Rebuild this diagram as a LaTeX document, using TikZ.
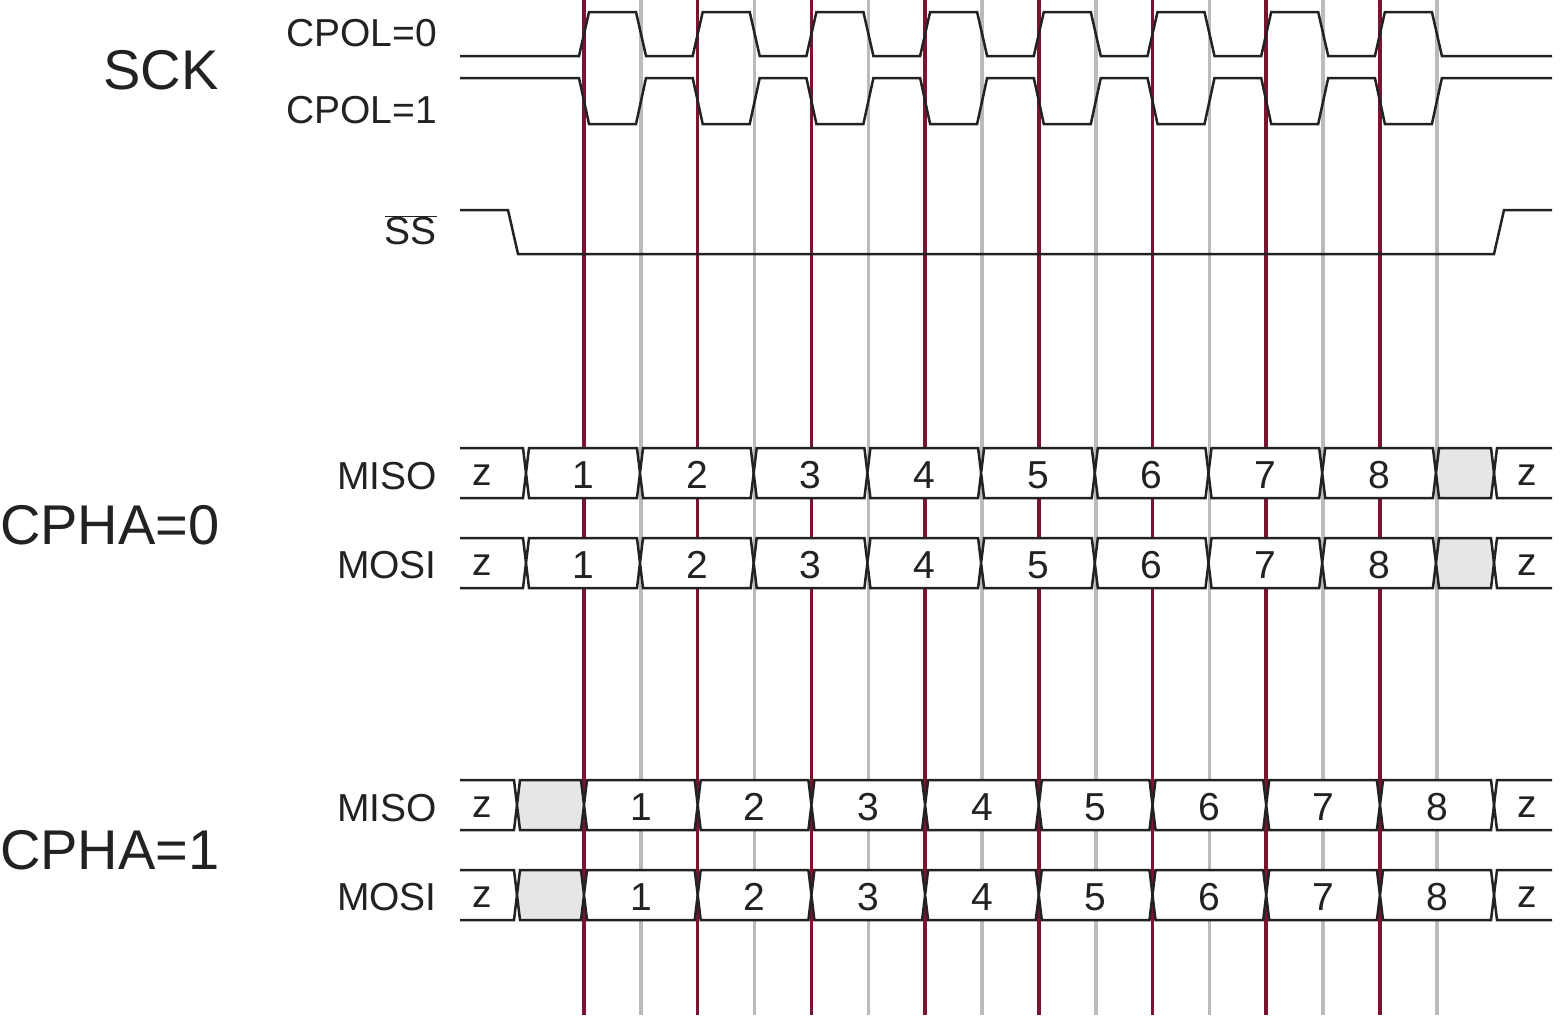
\documentclass[tikz,border=0pt]{standalone}
\usepackage{fontspec}
\setmainfont{Liberation Sans}
\definecolor{redl}{HTML}{7A1430}
\definecolor{grayl}{HTML}{BBBBBB}
\definecolor{cellg}{HTML}{E6E6E6}
\definecolor{ink}{HTML}{222222}
\begin{document}
\begin{tikzpicture}[x=1pt,y=-1pt,
  wave/.style={draw=ink,line width=2.5pt,line join=miter},
  cell/.style={draw=ink,line width=2.5pt,fill=white},
  gcell/.style={draw=ink,line width=2.5pt,fill=cellg},
  big/.style={font=\fontsize{56}{60}\selectfont,text=ink,inner sep=0pt},
  sml/.style={font=\fontsize{39}{42}\selectfont,text=ink,inner sep=0pt}]
\useasboundingbox (0,0) rectangle (1560,1015);
% vertical reference lines
\foreach \i in {0,...,7}{
  \pgfmathsetmacro{\xr}{584+113.7*\i}
  \pgfmathsetmacro{\xg}{641+113.7*\i}
  \draw[redl,line width=3.5pt] (\xr,0) -- (\xr,1015);
  \draw[grayl,line width=3.5pt] (\xg,0) -- (\xg,1015);
}
% clocks
\draw[wave] (460,56) -- (578,56)
  \foreach \i in {0,...,7}{
    -- ({579+113.7*\i},56) -- ({589+113.7*\i},12) -- ({636+113.7*\i},12) -- ({646+113.7*\i},56)
  } -- (1552,56);
\draw[wave] (460,78) -- (578,78)
  \foreach \i in {0,...,7}{
    -- ({579+113.7*\i},78) -- ({589+113.7*\i},124) -- ({636+113.7*\i},124) -- ({646+113.7*\i},78)
  } -- (1552,78);
% SS
\draw[wave] (460,210) -- (508,210) -- (518,254) -- (1494,254) -- (1504,210) -- (1552,210);
% bus macro: cell from a to b, row top t
\newcommand{\buscell}[5]{% style, xa, xb, top, label
  \filldraw[#1] (#2+3,#4) -- (#3-3,#4) -- (#3,#4+25) -- (#3-3,#4+50) -- (#2+3,#4+50) -- (#2,#4+25) -- cycle;
  \node[sml] at ({(#2+#3)/2},#4+27) {#5};}
\newcommand{\zleft}[2]{% end x, top
  \draw[wave] (460,#2) -- (#1-3,#2) -- (#1,#2+25) -- (#1-3,#2+50) -- (460,#2+50);
  \node[sml] at (482,#2+27) {z};}
\newcommand{\zright}[2]{% start x, top
  \draw[wave] (1552,#2) -- (#1+3,#2) -- (#1,#2+25) -- (#1+3,#2+50) -- (1552,#2+50);
  \node[sml] at (1527,#2+27) {z};}
% CPHA=0
\foreach \t in {448,538}{
  \zleft{526}{\t}
  \buscell{cell}{526}{640}{\t}{1}
  \foreach \i in {1,...,7}{
    \pgfmathsetmacro{\xa}{640+113.7*(\i-1)}
    \pgfmathsetmacro{\xb}{640+113.7*\i}
    \pgfmathtruncatemacro{\n}{\i+1}
    \buscell{cell}{\xa}{\xb}{\t}{\n}
  }
  \buscell{gcell}{1436}{1494}{\t}{}
  \zright{1494}{\t}
}
% CPHA=1
\foreach \t in {780,870}{
  \zleft{517}{\t}
  \buscell{gcell}{517}{584}{\t}{}
  \foreach \i in {1,...,7}{
    \pgfmathsetmacro{\xa}{584+113.7*(\i-1)}
    \pgfmathsetmacro{\xb}{584+113.7*\i}
    \buscell{cell}{\xa}{\xb}{\t}{\i}
  }
  \buscell{cell}{1380}{1494}{\t}{8}
  \zright{1494}{\t}
}
% labels
\node[big] (sck) at (161,70) {SCK};
\node[sml,anchor=east] (c0) at (437,33) {CPOL=0};
\node[sml,anchor=east] (c1) at (437,110) {CPOL=1};
\node[sml,anchor=east] (ss) at (437,230) {$\overline{\hbox{SS}}$};
\node[sml,anchor=east] (miso0) at (437,476) {MISO};
\node[sml,anchor=east] (mosi0) at (437,565) {MOSI};
\node[big,anchor=west] (ph0) at (0,525) {CPHA=0};
\node[sml,anchor=east] (miso1) at (437,808) {MISO};
\node[sml,anchor=east] (mosi1) at (437,897) {MOSI};
\node[big,anchor=west] (ph1) at (0,850) {CPHA=1};
\end{tikzpicture}
\end{document}
